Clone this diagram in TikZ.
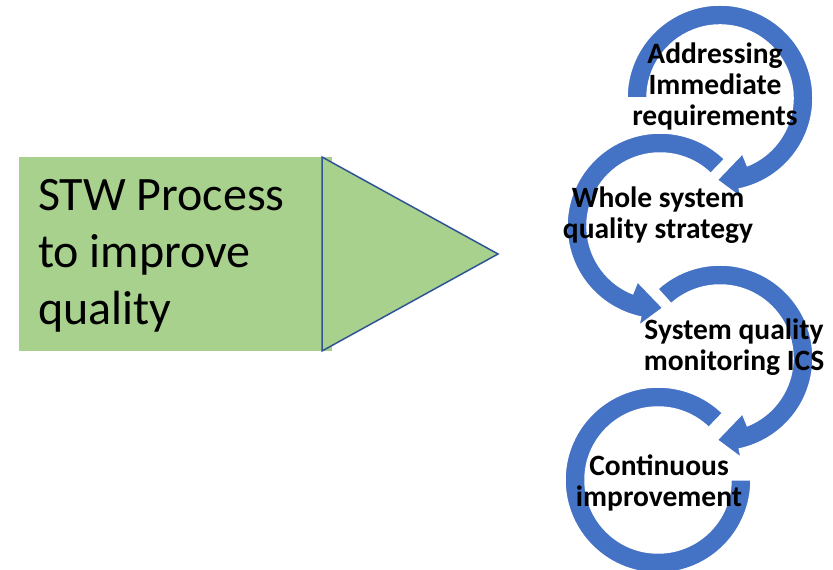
\documentclass[tikz,border=0pt]{standalone}
\usepackage{fontspec}
\setmainfont{Carlito}
\definecolor{arrowblue}{HTML}{4472C4}
\definecolor{boxgreen}{HTML}{A9D18E}
\definecolor{edgeblue}{HTML}{2F5597}
\tikzset{
  cyclearrow/.style={fill=arrowblue, draw=white, line width=1.5pt, line join=miter},
  steplabel/.style={align=center, inner sep=0pt, font=\bfseries\fontsize{29.5}{31}\selectfont, text=black},
}
\begin{document}
\begin{tikzpicture}[x=1pt,y=1pt]
\useasboundingbox (0,0) rectangle (833,570);
\fill[white] (0,0) rectangle (833,570);

% left block
\node[rectangle, fill=boxgreen, minimum width=313pt, minimum height=194pt, anchor=south west, inner sep=0pt] (box) at (19,219) {};
\coordinate (t1) at (322,413);
\coordinate (t2) at (322,219);
\coordinate (t3) at (498,316);
\draw[fill=boxgreen, draw=edgeblue, line width=1.5pt, line join=miter] (t1) -- (t2) -- (t3) -- cycle;
\node[anchor=north west, inner sep=0pt, align=left, font=\fontsize{48}{57}\selectfont] (title) at (38,391) {STW Process\\to improve\\quality};

% circular arrows
\coordinate (c1) at (720,472);
\coordinate (c2) at (660,344);
\coordinate (c3) at (720,212);
\coordinate (c4) at (658,90);

\begin{scope}[shift={(c1)}]
\path[cyclearrow] (180:93pt) arc[start angle=180, end angle=-78, radius=93pt] -- (-78:102pt) -- (-92:82pt) -- (-68:60pt) -- (-68:73pt) arc[start angle=-68, end angle=180, radius=73pt] -- cycle;
\end{scope}
\begin{scope}[shift={(c2)}]
\path[cyclearrow] (46:93pt) arc[start angle=46, end angle=258, radius=93pt] -- (258:102pt) -- (272:82pt) -- (248:60pt) -- (248:73pt) arc[start angle=248, end angle=46, radius=73pt] -- cycle;
\end{scope}
\begin{scope}[shift={(c3)}]
\path[cyclearrow] (132:93pt) arc[start angle=132, end angle=-78, radius=93pt] -- (-78:102pt) -- (-92:82pt) -- (-68:60pt) -- (-68:73pt) arc[start angle=-68, end angle=132, radius=73pt] -- cycle;
\end{scope}
\begin{scope}[shift={(c4)}]
\path[cyclearrow] (46:93pt) arc[start angle=46, end angle=360, radius=93pt] -- (0:73pt) arc[start angle=360, end angle=46, radius=73pt] -- cycle;
\end{scope}

\node[steplabel] (s1) at (715,484) {Addressing\\Immediate\\requirements};
\node[steplabel] (s2) at (658,355) {Whole system\\quality strategy};
\node[steplabel] (s3) at (734,223) {System quality\\monitoring ICS};
\node[steplabel] (s4) at (659,87) {Continuous\\improvement};
\end{tikzpicture}
\end{document}
